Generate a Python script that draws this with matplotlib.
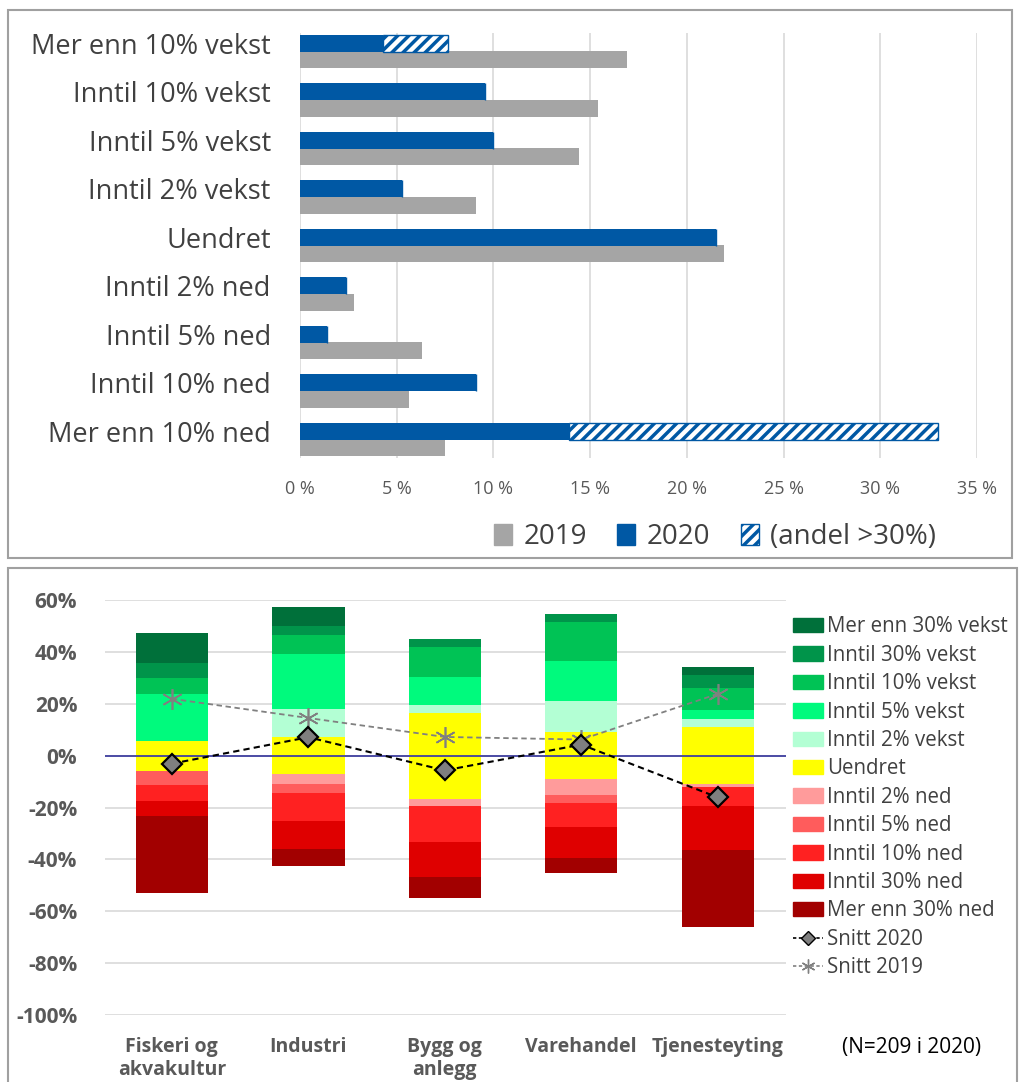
import matplotlib
matplotlib.use('Agg')
import matplotlib.pyplot as plt
from matplotlib.patches import Patch, Rectangle
from matplotlib.lines import Line2D
import numpy as np

plt.rcParams['font.family'] = ['Open Sans', 'DejaVu Sans']
plt.rcParams['hatch.linewidth'] = 2.5

# ---------------- data: top chart ----------------
top_categories = ['Mer enn 10% vekst', 'Inntil 10% vekst', 'Inntil 5% vekst', 'Inntil 2% vekst',
                  'Uendret', 'Inntil 2% ned', 'Inntil 5% ned', 'Inntil 10% ned', 'Mer enn 10% ned']
val_2019 = [16.9, 15.4, 14.4, 9.1, 21.9, 2.8, 6.3, 5.65, 7.5]
val_2020 = [7.65, 9.55, 10.0, 5.27, 21.5, 2.4, 1.42, 9.1, 33.0]
andel_over30 = [3.35, 0, 0, 0, 0, 0, 0, 0, 19.1]
top_ticks = [0, 5, 10, 15, 20, 25, 30, 35]
top_legend = ['2019', '2020', '(andel >30%)']

# ---------------- data: bottom chart ----------------
sectors = ['Fiskeri og\nakvakultur', 'Industri', 'Bygg og\nanlegg', 'Varehandel', 'Tjenesteyting']
mer30_vekst = [11.7, 7.4, 0.0, 0.0, 3.0]
inntil30_vekst = [5.8, 3.3, 2.8, 2.9, 5.3]
inntil10_vekst = [5.95, 7.35, 11.5, 15.3, 8.2]
inntil5_vekst = [18.05, 21.45, 11.0, 15.2, 3.5]
inntil2_vekst = [0.0, 10.7, 2.9, 12.0, 3.2]
uendret = [11.5, 14.3, 33.2, 18.3, 22.0]
inntil2_ned = [0.0, 3.7, 2.7, 6.0, 1.0]
inntil5_ned = [5.75, 3.5, 0.0, 3.1, 0.0]
inntil10_ned = [6.0, 10.7, 13.9, 9.3, 7.4]
inntil30_ned = [5.9, 10.9, 13.55, 11.8, 17.0]
mer30_ned = [29.4, 6.6, 8.25, 5.9, 29.5]
snitt_2020 = [-3.1, 7.1, -5.7, 4.25, -16.1]
snitt_2019 = [21.9, 14.5, 7.2, 6.2, 23.8]
bottom_ticks = [-100, -80, -60, -40, -20, 0, 20, 40, 60]

W, H = 1021, 1082
fig = plt.figure(figsize=(W / 100, H / 100), dpi=100)

BLUE = '#0058A4'
GRAY = '#A5A5A5'
TXT = '#404040'

# ---------------- top chart ----------------
ax1 = fig.add_axes([300 / W, 1 - 458 / H, 677 / W, 425 / H])
y = np.arange(len(top_categories))
v20 = np.array(val_2020)
a30 = np.array(andel_over30)
solid = v20 - a30
ax1.barh(y, solid, height=0.35, color=BLUE, zorder=3)
ax1.barh(y, a30, left=solid, height=0.35, facecolor='white', edgecolor=BLUE,
         hatch='///', linewidth=1.0, zorder=3)
ax1.barh(y + 0.34, val_2019, height=0.35, color=GRAY, zorder=2)
ax1.set_xlim(0, 35)
ax1.set_ylim(8.55, -0.21)
ax1.set_xticks(top_ticks)
ax1.set_xticklabels([f'{t} %' for t in top_ticks], fontsize=13, color='#595959')
ax1.set_yticks(y)
ax1.set_yticklabels(top_categories, fontsize=19.5, color=TXT)
ax1.tick_params(axis='both', length=0)
ax1.tick_params(axis='y', pad=21)
ax1.tick_params(axis='x', pad=16)
ax1.grid(axis='x', color='#D9D9D9', lw=1.2, zorder=0)
for s in ax1.spines.values():
    s.set_visible(False)

h1 = [Patch(color=GRAY), Patch(color=BLUE),
      Patch(facecolor='white', edgecolor=BLUE, hatch='///', lw=1.0)]
fig.legend(h1, top_legend, loc='center', bbox_to_anchor=(715 / W, 1 - 537 / H), ncol=3,
           frameon=False, fontsize=20, handlelength=0.65, handleheight=0.8,
           handletextpad=0.4, columnspacing=1.1, labelcolor=TXT)

# ---------------- bottom chart ----------------
ax2 = fig.add_axes([105 / W, 1 - 1015 / H, 681 / W, 415 / H])
x = np.arange(len(sectors))
bw = 0.53
u = np.array(uendret)
pos_series = [
    (inntil2_vekst, '#B3FFD4', 'Inntil 2% vekst'),
    (inntil5_vekst, '#00FA7D', 'Inntil 5% vekst'),
    (inntil10_vekst, '#00C355', 'Inntil 10% vekst'),
    (inntil30_vekst, '#00944A', 'Inntil 30% vekst'),
    (mer30_vekst, '#00703A', 'Mer enn 30% vekst'),
]
neg_series = [
    (inntil2_ned, '#FF9B9B', 'Inntil 2% ned'),
    (inntil5_ned, '#FF5C5C', 'Inntil 5% ned'),
    (inntil10_ned, '#FF2121', 'Inntil 10% ned'),
    (inntil30_ned, '#DF0000', 'Inntil 30% ned'),
    (mer30_ned, '#A20000', 'Mer enn 30% ned'),
]
ax2.bar(x, u, bottom=-u / 2, width=bw, color='#FFFF00', zorder=2)
base = u / 2
for vals, col, lab in pos_series:
    v = np.array(vals)
    ax2.bar(x, v, bottom=base, width=bw, color=col, zorder=2)
    base = base + v
base = -u / 2
for vals, col, lab in neg_series:
    v = np.array(vals)
    ax2.bar(x, -v, bottom=base, width=bw, color=col, zorder=2)
    base = base - v

ax2.axhline(0, color='#4040A0', lw=1.3, zorder=3)
ax2.plot(x, snitt_2019, ls=(0, (3, 2)), color='#808080', lw=1.3, marker=(6, 2, 0),
         ms=15, mec='#808080', mew=1.2, zorder=4)
ax2.plot(x, snitt_2020, ls=(0, (3, 2)), color='black', lw=1.5, marker='D', ms=10,
         mfc='#7F7F7F', mec='black', mew=1.6, zorder=5)

ax2.set_xlim(-0.49, 4.5)
ax2.set_ylim(-100, 60)
ax2.set_yticks(bottom_ticks)
ax2.set_yticklabels([f'{t}%' for t in bottom_ticks], fontsize=15, fontweight='bold', color='#595959')
ax2.set_xticks(x)
ax2.set_xticklabels(sectors, fontsize=14, fontweight='bold', color='#595959')
ax2.tick_params(axis='both', length=0)
ax2.tick_params(axis='y', pad=20)
ax2.tick_params(axis='x', pad=16)
ax2.grid(axis='y', color='#D9D9D9', lw=1.2, zorder=0)
for s in ax2.spines.values():
    s.set_visible(False)

h2, l2 = [], []
for vals, col, lab in pos_series[::-1]:
    h2.append(Patch(color=col)); l2.append(lab)
h2.append(Patch(color='#FFFF00')); l2.append('Uendret')
for vals, col, lab in neg_series:
    h2.append(Patch(color=col)); l2.append(lab)
h2.append(Line2D([], [], ls=(0, (2, 1.5)), color='black', lw=1.2, marker='D', ms=7,
                 mfc='#7F7F7F', mec='black'))
l2.append('Snitt 2020')
h2.append(Line2D([], [], ls=(0, (2, 1.5)), color='#808080', lw=1.2, marker=(6, 2, 0), ms=10,
                 mec='#808080'))
l2.append('Snitt 2019')
fig.legend(h2, l2, loc='upper left', bbox_to_anchor=(779 / W, 1 - 602 / H), frameon=False,
           fontsize=14.8, handlelength=1.45, handleheight=0.7, handletextpad=0.2,
           labelspacing=0.36, labelcolor=TXT, borderpad=0.2)

fig.text(912 / W, 1 - 1047 / H, '(N=209 i 2020)', ha='center', va='center', fontsize=15, color='black')

# panel frames
fig.add_artist(Rectangle((8 / W, 1 - 558 / H), 1004 / W, 548 / H, transform=fig.transFigure,
                         fill=False, ec='#A0A0A0', lw=1.5))
fig.add_artist(Rectangle((8 / W, -0.01), 1009 / W, 1 - 568 / H + 0.01, transform=fig.transFigure,
                         fill=False, ec='#A0A0A0', lw=1.5))

fig.savefig('out.png', dpi=100)
